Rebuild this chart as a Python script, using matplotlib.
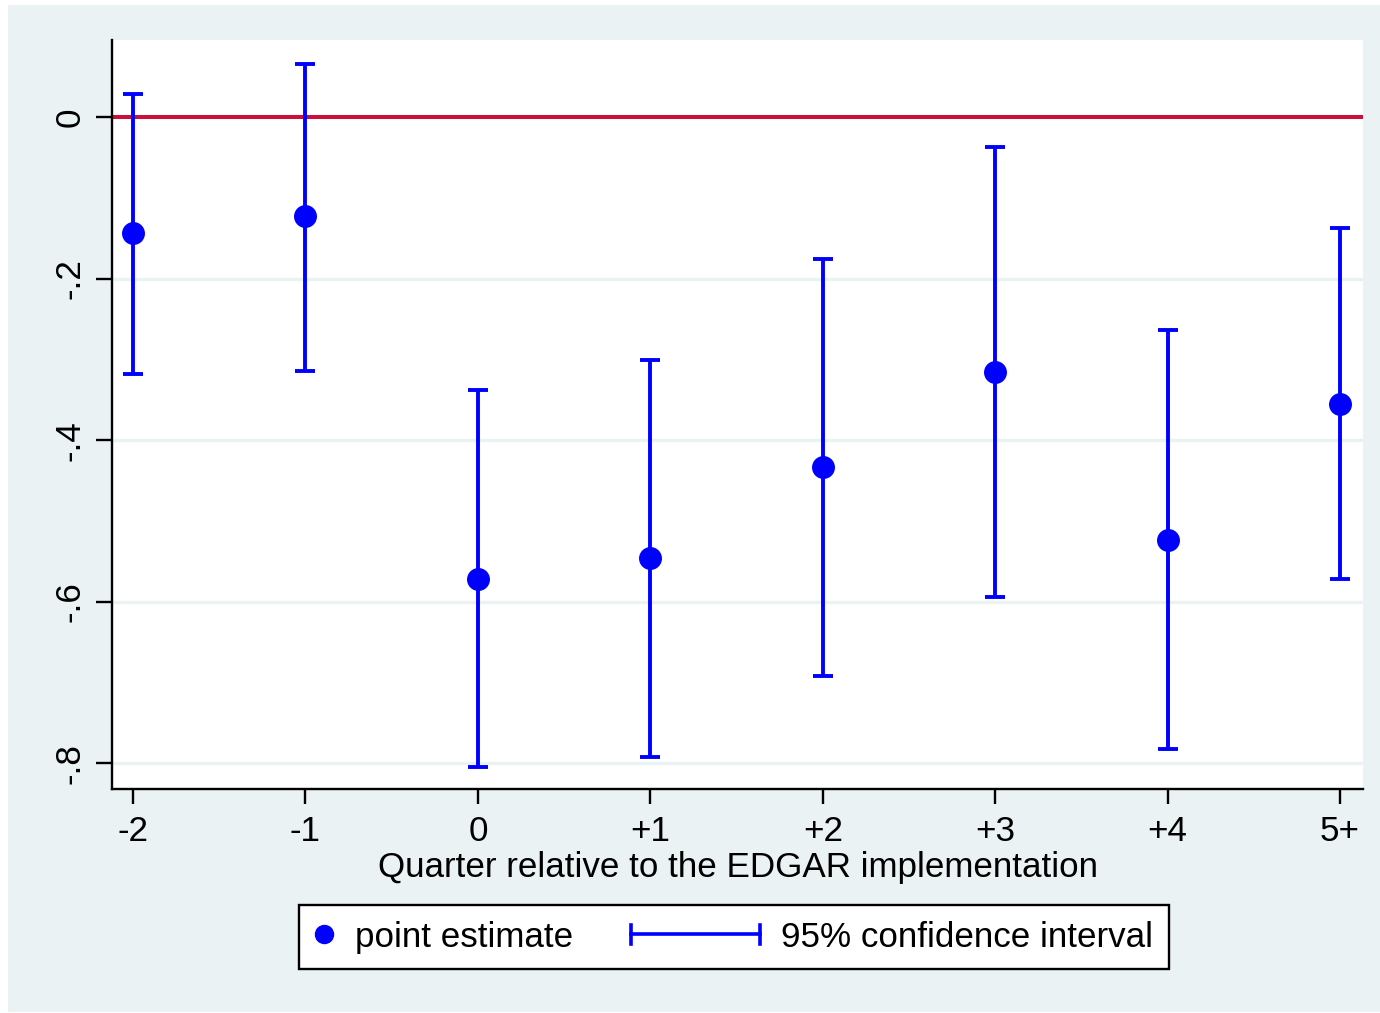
import matplotlib
matplotlib.use("Agg")
import matplotlib.pyplot as plt
from matplotlib.lines import Line2D
from matplotlib.patches import Rectangle
from matplotlib.legend_handler import HandlerBase

# ---- data ----
quarters = ['-2', '-1', '0', '+1', '+2', '+3', '+4', '5+']
point_est = [-0.144, -0.123, -0.572, -0.546, -0.433, -0.316, -0.524, -0.355]
ci_upper = [0.029, 0.066, -0.338, -0.301, -0.176, -0.037, -0.264, -0.137]
ci_lower = [-0.318, -0.315, -0.805, -0.792, -0.692, -0.594, -0.783, -0.572]
ytick_vals = [0, -0.2, -0.4, -0.6, -0.8]
ytick_labels = ['0', '-.2', '-.4', '-.6', '-.8']

BLUE = '#0000FF'
RED = '#C8103A'
PANEL = '#EAF2F3'
FS = 25.2

plt.rcParams['font.family'] = ['Liberation Sans', 'DejaVu Sans']

W, H = 1380, 1013
fig = plt.figure(figsize=(W / 100, H / 100), dpi=100, facecolor='white')

# outer light panel
bg = Rectangle((8 / W, 1 / H), 1 - 8 / W, (1012 - 5) / H,
               transform=fig.transFigure, facecolor=PANEL,
               edgecolor='none', zorder=-10)
fig.patches.append(bg)

ax = fig.add_axes([112 / W, (H - 789) / H, (1363 - 112) / W, (789 - 40) / H])
ax.set_zorder(1)
ax.set_facecolor('white')

x = list(range(len(quarters)))

for yv in ytick_vals[1:]:
    ax.axhline(yv, color=PANEL, lw=2.4, zorder=1)
ax.axhline(0, color=RED, lw=2.9, zorder=2)

err_lo = [p - l for p, l in zip(point_est, ci_lower)]
err_hi = [u - p for p, u in zip(point_est, ci_upper)]
ax.errorbar(x, point_est, yerr=[err_lo, err_hi], fmt='none', ecolor=BLUE,
            elinewidth=2.8, capsize=7.5, capthick=2.8, zorder=3)
ax.plot(x, point_est, 'o', color=BLUE, ms=15.5, zorder=4)

ax.set_xlim(-0.122, 7.133)
ax.set_ylim(-0.832, 0.0955)

ax.set_xticks(x)
ax.set_xticklabels(quarters, fontsize=FS)
ax.set_yticks(ytick_vals)
ax.set_yticklabels(ytick_labels, fontsize=FS, rotation=90, va='center')

for s in ['top', 'right']:
    ax.spines[s].set_visible(False)
for s in ['left', 'bottom']:
    ax.spines[s].set_linewidth(1.7)
    ax.spines[s].set_color('black')
ax.tick_params(axis='x', length=11, width=1.7, pad=8)
ax.tick_params(axis='y', length=11.5, width=1.7, pad=7)

ax.set_xlabel('Quarter relative to the EDGAR implementation', fontsize=FS,
              labelpad=2)


class PointHandler(HandlerBase):
    def legend_artist(self, legend, orig_handle, fontsize, handlebox):
        w = 14
        handlebox.width = w
        xd, yd, h = handlebox.xdescent, handlebox.ydescent, handlebox.height
        ln = Line2D([w / 2 - xd], [(h - yd) / 2], marker='o', ms=13,
                    color=BLUE, ls='none')
        ln.set_transform(handlebox.get_transform())
        handlebox.add_artist(ln)
        return ln


class CIHandler(HandlerBase):
    def legend_artist(self, legend, orig_handle, fontsize, handlebox):
        xd, yd, w, h = (handlebox.xdescent, handlebox.ydescent,
                        handlebox.width, handlebox.height)
        yc = (h - yd) / 2
        x0, x1 = -xd, -xd + w
        c = 7
        arts = [Line2D([x0, x1], [yc, yc], color=BLUE, lw=2.6),
                Line2D([x0, x0], [yc - c, yc + c], color=BLUE, lw=2.6),
                Line2D([x1, x1], [yc - c, yc + c], color=BLUE, lw=2.6)]
        for a in arts:
            a.set_transform(handlebox.get_transform())
            handlebox.add_artist(a)
        return arts[0]


h_point = Line2D([], [], marker='o', color=BLUE, ls='none')
h_ci = Line2D([], [], color=BLUE)
leg = fig.legend([h_point, h_ci], ['point estimate', '95% confidence interval'],
                 handler_map={h_point: PointHandler(), h_ci: CIHandler()},
                 loc='center', bbox_to_anchor=(734 / W, (H - 937) / H),
                 ncol=2, fontsize=FS, frameon=True, fancybox=False,
                 edgecolor='black', facecolor='white', framealpha=1,
                 handlelength=3.7, handletextpad=0.6, columnspacing=1.65,
                 borderpad=0.45, borderaxespad=0)
leg.get_frame().set_linewidth(1.7)

fig.savefig('out.png', dpi=100, facecolor='white')
